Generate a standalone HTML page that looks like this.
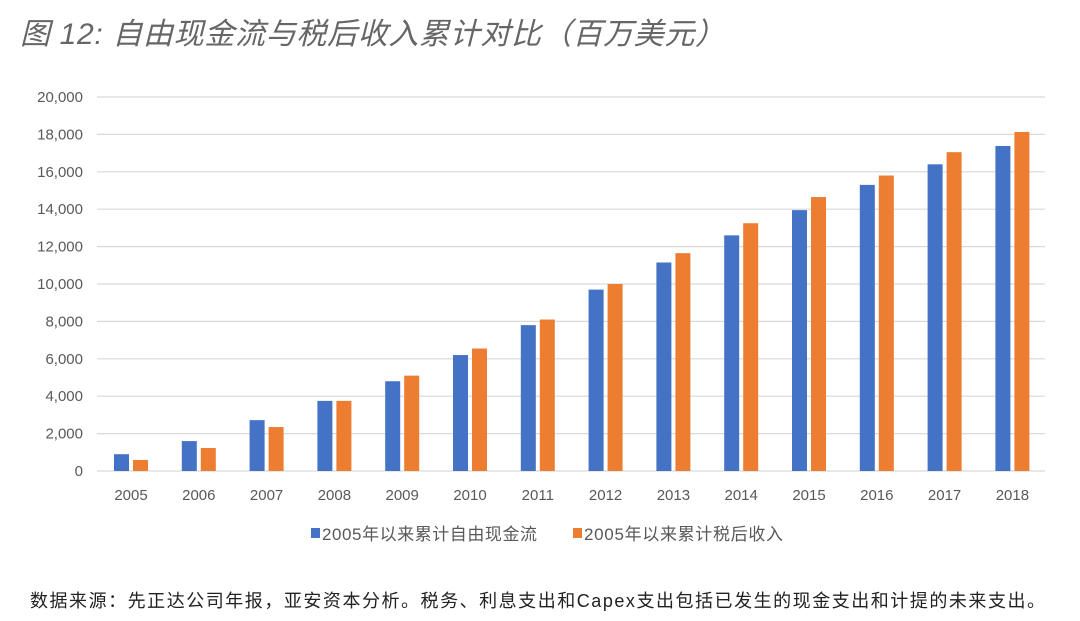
<!DOCTYPE html>
<html><head><meta charset="utf-8"><style>
body{margin:0;background:#fff;}
svg{display:block;}
text{font-family:"Liberation Sans","Noto Sans CJK SC",sans-serif;}
</style></head><body>
<svg id="s" width="1080" height="621" xmlns="http://www.w3.org/2000/svg">
<text x="20" y="44" font-size="30" font-style="italic" fill="#666" textLength="705" lengthAdjust="spacing">图 12: 自由现金流与税后收入累计对比（百万美元）</text>
<g id="g"></g>
<rect x="311" y="528" width="9" height="10" fill="#4472c4"/>
<text x="322" y="540" font-size="17" fill="#595959" textLength="215" lengthAdjust="spacing">2005年以来累计自由现金流</text>
<rect x="573" y="528" width="9" height="10" fill="#ed7d31"/>
<text x="584" y="540" font-size="17" fill="#595959" textLength="199" lengthAdjust="spacing">2005年以来累计税后收入</text>
<text x="30" y="607" font-size="18" fill="#222" textLength="1015" lengthAdjust="spacing">数据来源：先正达公司年报，亚安资本分析。税务、利息支出和Capex支出包括已发生的现金支出和计提的未来支出。</text>
</svg>
<script>
var g=document.getElementById('g'),h='';
var y0=471,k=374/20000;
for(var v=0;v<=20000;v+=2000){var y=y0-v*k;
h+='<line x1="97" x2="1045" y1="'+y+'" y2="'+y+'" stroke="#d9d9d9" stroke-width="1.2"/>';
h+='<text x="83" y="'+(y+5)+'" font-size="15" fill="#595959" text-anchor="end">'+v.toLocaleString('en-US')+'</text>';}
var b=[900,1600,2720,3750,4800,6200,7800,9700,11150,12600,13950,15300,16400,17380];
var o=[590,1230,2350,3750,5100,6550,8100,10000,11650,13250,14650,15800,17050,18130];
for(var i=0;i<14;i++){var c=131+i*67.8;
h+='<rect x="'+(c-17)+'" y="'+(y0-b[i]*k)+'" width="15" height="'+(b[i]*k)+'" fill="#4472c4"/>';
h+='<rect x="'+(c+2)+'" y="'+(y0-o[i]*k)+'" width="15" height="'+(o[i]*k)+'" fill="#ed7d31"/>';
h+='<text x="'+c+'" y="500" font-size="15" fill="#595959" text-anchor="middle">'+(2005+i)+'</text>';}
g.innerHTML=h;
</script>
</body></html>
